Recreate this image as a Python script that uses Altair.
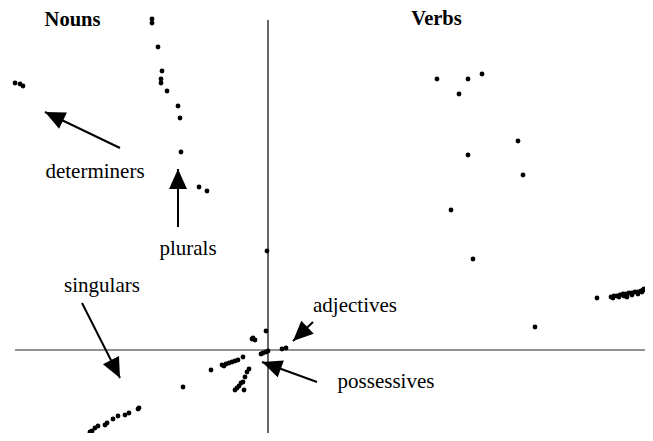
import math
import altair as alt
import pandas as pd

# ---- scatter points (two-dimensional projection of word vectors) ----
pt_x = [
    # determiners / nouns
    -2.53, -2.48, -2.45,
    -1.16, -1.16, -1.10, -1.06, -1.07, -1.07, -1.01, -0.90, -0.88, -0.87, -0.69, -0.61, -0.01,
    # verbs
    1.69, 2.00, 2.14, 1.91, 2.50, 2.00, 2.55, 1.83, 2.05, 2.67, 3.29,
    3.43, 3.46, 3.49, 3.52, 3.55, 3.58, 3.59, 3.61, 3.64, 3.67, 3.70, 3.73, 3.75, 3.76,
    3.45, 3.51, 3.56, 3.64, 3.70, 3.74,
    # centre (adjectives, possessives)
    -0.02, -0.15, -0.13, -0.16, -0.05, -0.02, 0.00, -0.07, 0.14, 0.18,
    -0.57, -0.46, -0.44, -0.42, -0.39, -0.36, -0.33, -0.30, -0.25,
    -0.19, -0.21, -0.23, -0.25, -0.27, -0.29, -0.31, -0.33, -0.24, -0.85,
    # singulars
    -1.86, -1.78, -1.76, -1.73, -1.70, -1.63, -1.61, -1.55, -1.50, -1.43, -1.39, -1.30, -1.29,
]
pt_y = [
    2.67, 2.66, 2.64,
    3.31, 3.27, 3.03, 2.79, 2.71, 2.67, 2.59, 2.44, 2.32, 1.98, 1.63, 1.59, 0.99,
    2.71, 2.71, 2.76, 2.56, 2.09, 1.95, 1.75, 1.40, 0.91, 0.23, 0.52,
    0.53, 0.54, 0.54, 0.55, 0.56, 0.56, 0.53, 0.57, 0.57, 0.58, 0.58, 0.59, 0.60, 0.61,
    0.52, 0.53, 0.54, 0.55, 0.56, 0.58,
    0.19, 0.12, 0.10, 0.11, -0.03, -0.02, -0.01, -0.04, 0.01, 0.02,
    -0.20, -0.15, -0.16, -0.14, -0.13, -0.12, -0.11, -0.10, -0.07,
    -0.19, -0.22, -0.27, -0.32, -0.33, -0.36, -0.38, -0.40, -0.40, -0.37,
    -0.88, -0.82, -0.81, -0.78, -0.76, -0.75, -0.73, -0.69, -0.66, -0.65, -0.63, -0.59, -0.58,
]

# ---- titles and labels ----
title_text = ["Nouns", "Verbs"]
title_x = [-1.955, 1.685]
title_y = [3.24, 3.25]

label_text = ["determiners", "plurals", "singulars", "adjectives", "possessives"]
label_x = [-1.73, -0.80, -1.66, 0.87, 1.18]
label_y = [1.72, 0.95, 0.58, 0.38, -0.38]

# ---- arrows (tail -> tip) ----
arrow_x0 = [-1.48, -0.90, -1.86, 0.45, 0.49]
arrow_y0 = [2.02, 1.23, 0.47, 0.28, -0.32]
arrow_x1 = [-2.23, -0.90, -1.48, 0.25, -0.06]
arrow_y1 = [2.38, 1.81, -0.28, 0.09, -0.12]

# ---- axes lines through origin ----
h_axis = {"x": -2.53, "x2": 3.78, "y": 0.0}
v_axis = {"y": 3.30, "y2": -0.87, "x": 0.0}

X_DOM = [-2.60, 3.77]
Y_DOM = [-0.83, 3.42]
xs = alt.Scale(domain=X_DOM, nice=False, zero=False)
ys = alt.Scale(domain=Y_DOM, nice=False, zero=False)

pts = pd.DataFrame({"x": pt_x, "y": pt_y})
titles = pd.DataFrame({"t": title_text, "x": title_x, "y": title_y})
labels = pd.DataFrame({"t": label_text, "x": label_x, "y": label_y})
ang = [
    (math.degrees(math.atan2(x1 - x0, y1 - y0)) + 360) % 360
    for x0, y0, x1, y1 in zip(arrow_x0, arrow_y0, arrow_x1, arrow_y1)
]
arrows = pd.DataFrame({"x0": arrow_x0, "y0": arrow_y0, "x1": arrow_x1, "y1": arrow_y1, "a": ang})
hdf = pd.DataFrame([h_axis])
vdf = pd.DataFrame([v_axis])

hline = alt.Chart(hdf).mark_rule(color="#6e6e6e", strokeWidth=1.6).encode(
    x=alt.X("x:Q", scale=xs, axis=None), x2="x2:Q", y=alt.Y("y:Q", scale=ys, axis=None)
)
vline = alt.Chart(vdf).mark_rule(color="black", strokeWidth=1.2).encode(
    x=alt.X("x:Q", scale=xs, axis=None), y=alt.Y("y:Q", scale=ys, axis=None), y2="y2:Q"
)
dots = alt.Chart(pts).mark_circle(color="black", size=24, opacity=1).encode(
    x=alt.X("x:Q", scale=xs, axis=None), y=alt.Y("y:Q", scale=ys, axis=None)
)
shafts = alt.Chart(arrows).mark_rule(color="black", strokeWidth=2).encode(
    x=alt.X("x0:Q", scale=xs, axis=None), y=alt.Y("y0:Q", scale=ys, axis=None),
    x2="x1:Q", y2="y1:Q"
)
heads = alt.Chart(arrows).mark_point(
    shape="M0,0L-0.45,1L0.45,1Z", filled=True, color="black", opacity=1, size=1600, strokeWidth=0
).encode(
    x=alt.X("x1:Q", scale=xs, axis=None), y=alt.Y("y1:Q", scale=ys, axis=None),
    angle=alt.Angle("a:Q", scale=None)
)
title_marks = alt.Chart(titles).mark_text(
    font="Liberation Serif", fontSize=20.5, fontWeight="bold", align="center", baseline="alphabetic", color="black"
).encode(x=alt.X("x:Q", scale=xs, axis=None), y=alt.Y("y:Q", scale=ys, axis=None), text="t:N")
label_marks = alt.Chart(labels).mark_text(
    font="Liberation Serif", fontSize=21, align="center", baseline="alphabetic", color="black"
).encode(x=alt.X("x:Q", scale=xs, axis=None), y=alt.Y("y:Q", scale=ys, axis=None), text="t:N")

chart = alt.layer(hline, vline, dots, shafts, heads, title_marks, label_marks).properties(
    width=637, height=425, padding=0, background="white",
    autosize=alt.AutoSizeParams(type="none")
).configure_view(stroke=None, strokeWidth=0)

chart.save("out.html", embed_options={"renderer": "svg", "actions": False})
